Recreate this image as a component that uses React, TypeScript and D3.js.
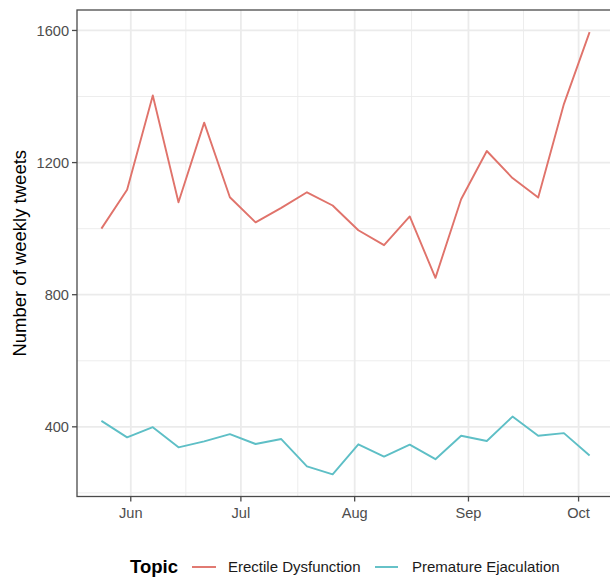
import React from "react";
import * as d3 from "d3";

const weeks = [
  "2019-05-24", "2019-05-31", "2019-06-07", "2019-06-14", "2019-06-21",
  "2019-06-28", "2019-07-05", "2019-07-12", "2019-07-19", "2019-07-26",
  "2019-08-02", "2019-08-09", "2019-08-16", "2019-08-23", "2019-08-30",
  "2019-09-06", "2019-09-13", "2019-09-20", "2019-09-27", "2019-10-04",
];
const erectile = [1000, 1118, 1403, 1080, 1321, 1095, 1019, 1063, 1110, 1070,
  995, 950, 1037, 851, 1089, 1235, 1153, 1094, 1377, 1595];
const premature = [418, 368, 399, 338, 356, 378, 348, 363, 280, 256,
  347, 310, 346, 302, 373, 357, 431, 373, 381, 313];
const yTicks = [400, 800, 1200, 1600];
const yMinor = [200, 600, 1000, 1400];
const monthTicks = ["2019-06-01", "2019-07-01", "2019-08-01", "2019-09-01", "2019-10-01"];
const monthLabels = ["Jun", "Jul", "Aug", "Sep", "Oct"];
const seriesNames = ["Erectile Dysfunction", "Premature Ejaculation"];
const seriesColors = ["#e0736b", "#5ebfc6"];

const W = 610, H = 579;
const left = 77, right = 614, top = 10, bottom = 496.5;
const FONT = "'Liberation Sans', Arial, Helvetica, sans-serif";

export default function App() {
  const parse = d3.utcParse("%Y-%m-%d");
  const dates = weeks.map((d) => parse(d)!);
  const [d0, d1] = d3.extent(dates) as [Date, Date];
  const pad = (d1.getTime() - d0.getTime()) * 0.05;
  const x = d3.scaleUtc()
    .domain([new Date(d0.getTime() - pad), new Date(d1.getTime() + pad)])
    .range([left, right]);
  const all = [...erectile, ...premature];
  const lo = d3.min(all)!, hi = d3.max(all)!;
  const yp = (hi - lo) * 0.05;
  const y = d3.scaleLinear().domain([lo - yp, hi + yp]).range([bottom, top]);

  const mTicks = monthTicks.map((d) => parse(d)!);
  const mMinor = mTicks.slice(1).map((d, i) => new Date((d.getTime() + mTicks[i].getTime()) / 2));

  const line = d3.line<number>()
    .x((_, i) => x(dates[i]))
    .y((v) => y(v));
  const series = [erectile, premature];

  return (
    <svg width={W} height={H} style={{ position: "absolute", left: 0, top: 0, background: "#fff" }} fontFamily={FONT}>
      <defs>
        <clipPath id="panel">
          <rect x={left} y={top} width={right - left} height={bottom - top} />
        </clipPath>
      </defs>
      <rect x={left} y={top} width={right - left} height={bottom - top} fill="#fff" />
      <g clipPath="url(#panel)">
        {yMinor.map((v) => (
          <line key={"ym" + v} x1={left} x2={right} y1={y(v)} y2={y(v)} stroke="#ebebeb" strokeWidth={0.9} />
        ))}
        {mMinor.map((d, i) => (
          <line key={"xm" + i} x1={x(d)} x2={x(d)} y1={top} y2={bottom} stroke="#ebebeb" strokeWidth={0.9} />
        ))}
        {yTicks.map((v) => (
          <line key={"yg" + v} x1={left} x2={right} y1={y(v)} y2={y(v)} stroke="#ebebeb" strokeWidth={1.8} />
        ))}
        {mTicks.map((d, i) => (
          <line key={"xg" + i} x1={x(d)} x2={x(d)} y1={top} y2={bottom} stroke="#ebebeb" strokeWidth={1.8} />
        ))}
        {series.map((s, i) => (
          <path key={"s" + i} d={line(s)!} fill="none" stroke={seriesColors[i]} strokeWidth={1.9} strokeLinejoin="round" />
        ))}
      </g>
      <rect x={left} y={top} width={right - left} height={bottom - top} fill="none" stroke="#4a4a4a" strokeWidth={1.3} />
      {yTicks.map((v) => (
        <g key={"yt" + v}>
          <line x1={left - 5} x2={left} y1={y(v)} y2={y(v)} stroke="#4a4a4a" strokeWidth={1.3} />
          <text x={left - 8} y={y(v)} dy="0.35em" textAnchor="end" fontSize={14.6} fill="#4d4d4d">{v}</text>
        </g>
      ))}
      {mTicks.map((d, i) => (
        <g key={"xt" + i}>
          <line x1={x(d)} x2={x(d)} y1={bottom} y2={bottom + 5} stroke="#4a4a4a" strokeWidth={1.3} />
          <text x={x(d)} y={bottom + 16} dy="0.35em" textAnchor="middle" fontSize={14.6} fill="#4d4d4d">{monthLabels[i]}</text>
        </g>
      ))}
      <text transform={`translate(20,${(top + bottom) / 2}) rotate(-90)`} textAnchor="middle" dy="0.35em" fontSize={18.5} fill="#000">
        Number of weekly tweets
      </text>
      <g>
        <text x={130} y={567} dy="0.35em" fontSize={18.5} fontWeight="bold" fill="#000">Topic</text>
        <line x1={192} x2={216} y1={567} y2={567} stroke={seriesColors[0]} strokeWidth={1.9} />
        <text x={228} y={567} dy="0.35em" fontSize={15} fill="#1a1a1a">{seriesNames[0]}</text>
        <line x1={375} x2={398} y1={567} y2={567} stroke={seriesColors[1]} strokeWidth={1.9} />
        <text x={412} y={567} dy="0.35em" fontSize={15} fill="#1a1a1a">{seriesNames[1]}</text>
      </g>
    </svg>
  );
}
